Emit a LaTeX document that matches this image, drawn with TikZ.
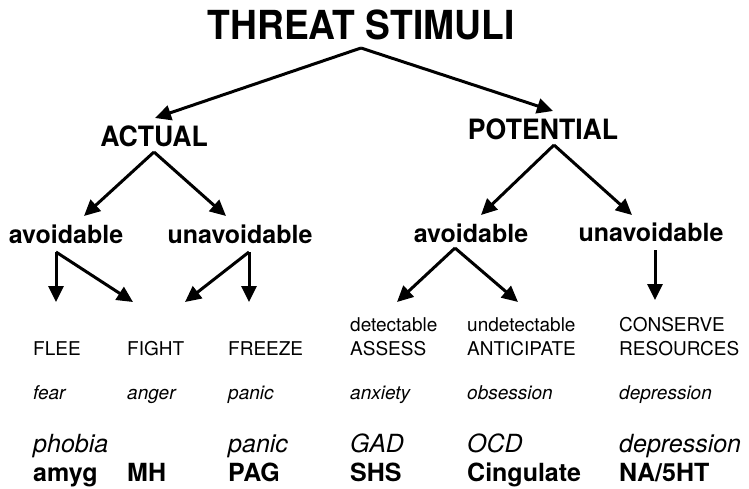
\documentclass[tikz,border=0pt]{standalone}
\usepackage{fontspec}
\usepackage{graphicx}
\setmainfont{TeX Gyre Heros}
\usetikzlibrary{arrows.meta}
\begin{document}
\begin{tikzpicture}[x=1pt,y=-1pt,
  title/.style={font=\fontsize{40}{40}\selectfont\bfseries, anchor=base, inner sep=0pt},
  headA/.style={font=\fontsize{28}{28}\selectfont\bfseries, anchor=base, inner sep=0pt},
  headB/.style={font=\fontsize{25}{25}\selectfont\bfseries, anchor=base, inner sep=0pt},
  act/.style={font=\fontsize{19}{19}\selectfont, anchor=base west, inner sep=0pt},
  emo/.style={font=\fontsize{19}{19}\selectfont\itshape, anchor=base west, inner sep=0pt},
  dis/.style={font=\fontsize{25}{25}\selectfont\itshape, anchor=base west, inner sep=0pt},
  brain/.style={font=\fontsize{25}{25}\selectfont\bfseries, anchor=base west, inner sep=0pt},
  arr/.style={line width=3pt, -{Triangle[length=16pt,width=15pt]}}
]
\useasboundingbox[fill=white] (0,0) rectangle (749,488);

% headings
\node[title] (threat) at (361,39) {\scalebox{0.93}[1]{THREAT STIMULI}};
\node[headA] (actual) at (154,146) {\scalebox{0.95}[1]{ACTUAL}};
\node[headA] (potential) at (543,139) {\scalebox{0.95}[1]{POTENTIAL}};
\node[headB] (avL) at (66,243) {avoidable};
\node[headB] (unL) at (240,243) {unavoidable};
\node[headB] (avR) at (471,242) {avoidable};
\node[headB] (unR) at (651,241) {unavoidable};

% branch points and arrow tips
\coordinate (pT) at (361,48);
\coordinate (tA) at (155,118);
\coordinate (tP) at (553,111);
\coordinate (pA) at (154,152);
\coordinate (tAL) at (84,216);
\coordinate (tAU) at (226,216);
\coordinate (pP) at (554,145);
\coordinate (tPL) at (481,215);
\coordinate (tPU) at (632,215);
\coordinate (pL) at (56,252);
\coordinate (tFlee) at (56,302);
\coordinate (tFightL) at (133,302);
\coordinate (pU) at (249,252);
\coordinate (tFightU) at (185,302);
\coordinate (tFreeze) at (249,302);
\coordinate (pR) at (455,248);
\coordinate (tAssess) at (397,302);
\coordinate (tAntic) at (518,302);
\coordinate (pC) at (655,250);
\coordinate (tCons) at (655,300);

\draw[arr] (pT) -- (tA);
\draw[arr] (pT) -- (tP);
\draw[arr] (pA) -- (tAL);
\draw[arr] (pA) -- (tAU);
\draw[arr] (pP) -- (tPL);
\draw[arr] (pP) -- (tPU);
\draw[arr] (pL) -- (tFlee);
\draw[arr] (pL) -- (tFightL);
\draw[arr] (pU) -- (tFightU);
\draw[arr] (pU) -- (tFreeze);
\draw[arr] (pR) -- (tAssess);
\draw[arr] (pR) -- (tAntic);
\draw[arr] (pC) -- (tCons);

% responses
\node[act] (det) at (350,331) {detectable};
\node[act] (undet) at (467,331) {undetectable};
\node[act] (cons) at (619,331) {CONSERVE};
\node[act] (flee) at (33,355) {FLEE};
\node[act] (fight) at (127,355) {FIGHT};
\node[act] (freeze) at (228,355) {FREEZE};
\node[act] (assess) at (350,355) {ASSESS};
\node[act] (antic) at (467,355) {ANTICIPATE};
\node[act] (res) at (619,355) {RESOURCES};

% emotions
\node[emo] (fear) at (33,399) {fear};
\node[emo] (anger) at (127,399) {anger};
\node[emo] (panicA) at (228,399) {panic};
\node[emo] (anx) at (350,399) {anxiety};
\node[emo] (obs) at (467,399) {obsession};
\node[emo] (depA) at (619,399) {depression};

% disorders
\node[dis] (phobia) at (33,452) {phobia};
\node[dis] (panicB) at (228,452) {panic};
\node[dis] (gad) at (350,452) {GAD};
\node[dis] (ocd) at (467,452) {OCD};
\node[dis] (depB) at (619,452) {depression};

% brain systems
\node[brain] (amyg) at (33,481) {amyg};
\node[brain] (mh) at (127,481) {MH};
\node[brain] (pag) at (228,481) {PAG};
\node[brain] (shs) at (350,481) {SHS};
\node[brain] (cing) at (467,481) {Cingulate};
\node[brain] (na) at (619,481) {NA/5HT};
\end{tikzpicture}
\end{document}
